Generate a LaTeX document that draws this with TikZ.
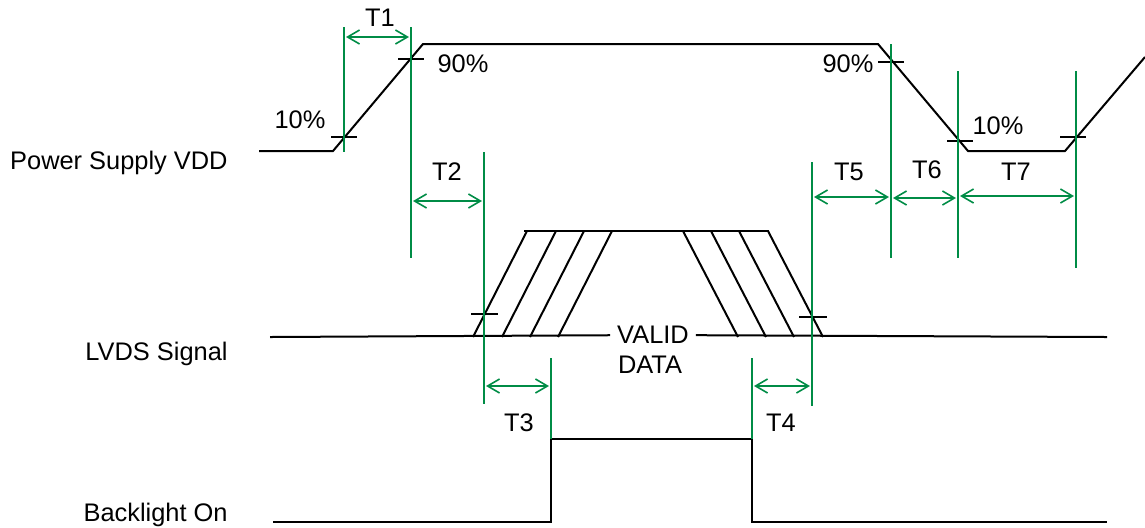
\documentclass[tikz,border=0pt]{standalone}
\usepackage{fontspec}
\setmainfont{Liberation Sans}
\usetikzlibrary{arrows.meta}
\definecolor{dimgreen}{RGB}{0,140,70}

\begin{document}
\begin{tikzpicture}[x=0.5pt, y=-0.5pt, font=\fontsize{12.7}{15}\selectfont,
	wave/.style={line width=1pt},
	signame/.style={anchor=base east, inner xsep=0pt},
	guide/.style={dimgreen, line width=0.8pt},
	dim/.style={guide, {Straight Barb[length=6pt,width=7pt]}-{Straight Barb[length=6pt,width=7pt]}, shorten <=1pt, shorten >=1pt}]
\useasboundingbox (0,0) rectangle (1145,527);

% signal names
\node[signame] (vdd) at (228,169) {Power Supply VDD};
\node[signame] (lvds) at (228,360) {LVDS Signal};
\node[signame] (bl) at (228,521) {Backlight On};

% power supply
\draw[wave] (259,151) -- (333,151) -- (423,44) -- (878,44) -- (968,151) -- (1065,151) -- (1145,57);
\foreach \x/\y in {344/137, 411/59, 891/62, 960/141, 1073/137}
	\draw[wave] (\x-13,\y) -- (\x+13,\y);
\node (p10a) at (300,120) {10\%};
\node (p90a) at (463,64) {90\%};
\node (p90b) at (848,64) {90\%};
\node (p10b) at (998,126) {10\%};

% lvds signal
\node (valid) at (653,335) {VALID};
\node (data) at (650,365) {DATA};
\draw[wave] (270,337) -- (valid) -- (1107,337);
\draw[wave] (524,231) -- (769,231);
\foreach \b in {473,502,530,558}
	\draw[wave] (\b,337) -- ++(54,-106);
\foreach \t in {683,711,739,768}
	\draw[wave] (\t,231) -- ++(55,106);
\draw[wave] (471,314) -- (498,314);
\draw[wave] (799,317) -- (827,317);

% backlight
\draw[wave] (273,522) -- (551,522) -- (551,439) -- (752,439) -- (752,522) -- (1107,522);

% guides
\foreach \n/\x/\a/\b in {g1/344/27/152, g2/411/27/258, g3/484/152/404, g4/551/358/439,
	g5/752/358/439, g6/812/162/406, g7/891/44/258, g8/958/71/258, g9/1076/71/268}{
	\coordinate (\n t) at (\x,\a);
	\coordinate (\n b) at (\x,\b);
	\draw[guide] (\n t) -- (\n b);
}

% timing arrows
\foreach \l/\p/\q/\y in {T1/g1/g2/37, T2/g2/g3/201, T3/g3/g4/386, T4/g5/g6/386,
	T5/g6/g7/197, T6/g7/g8/198, T7/g8/g9/196}
	\draw[dim] (\p t |- 0,\y) coordinate (\l a) -- (\q t |- 0,\y) coordinate (\l b);

\node (t1) at (380,18) {T1};
\node (t2) at (447,172) {T2};
\node (t3) at (519,423) {T3};
\node (t4) at (781,423) {T4};
\node (t5) at (849,172) {T5};
\node (t6) at (927,170) {T6};
\node (t7) at (1016,172) {T7};
\end{tikzpicture}
\end{document}
